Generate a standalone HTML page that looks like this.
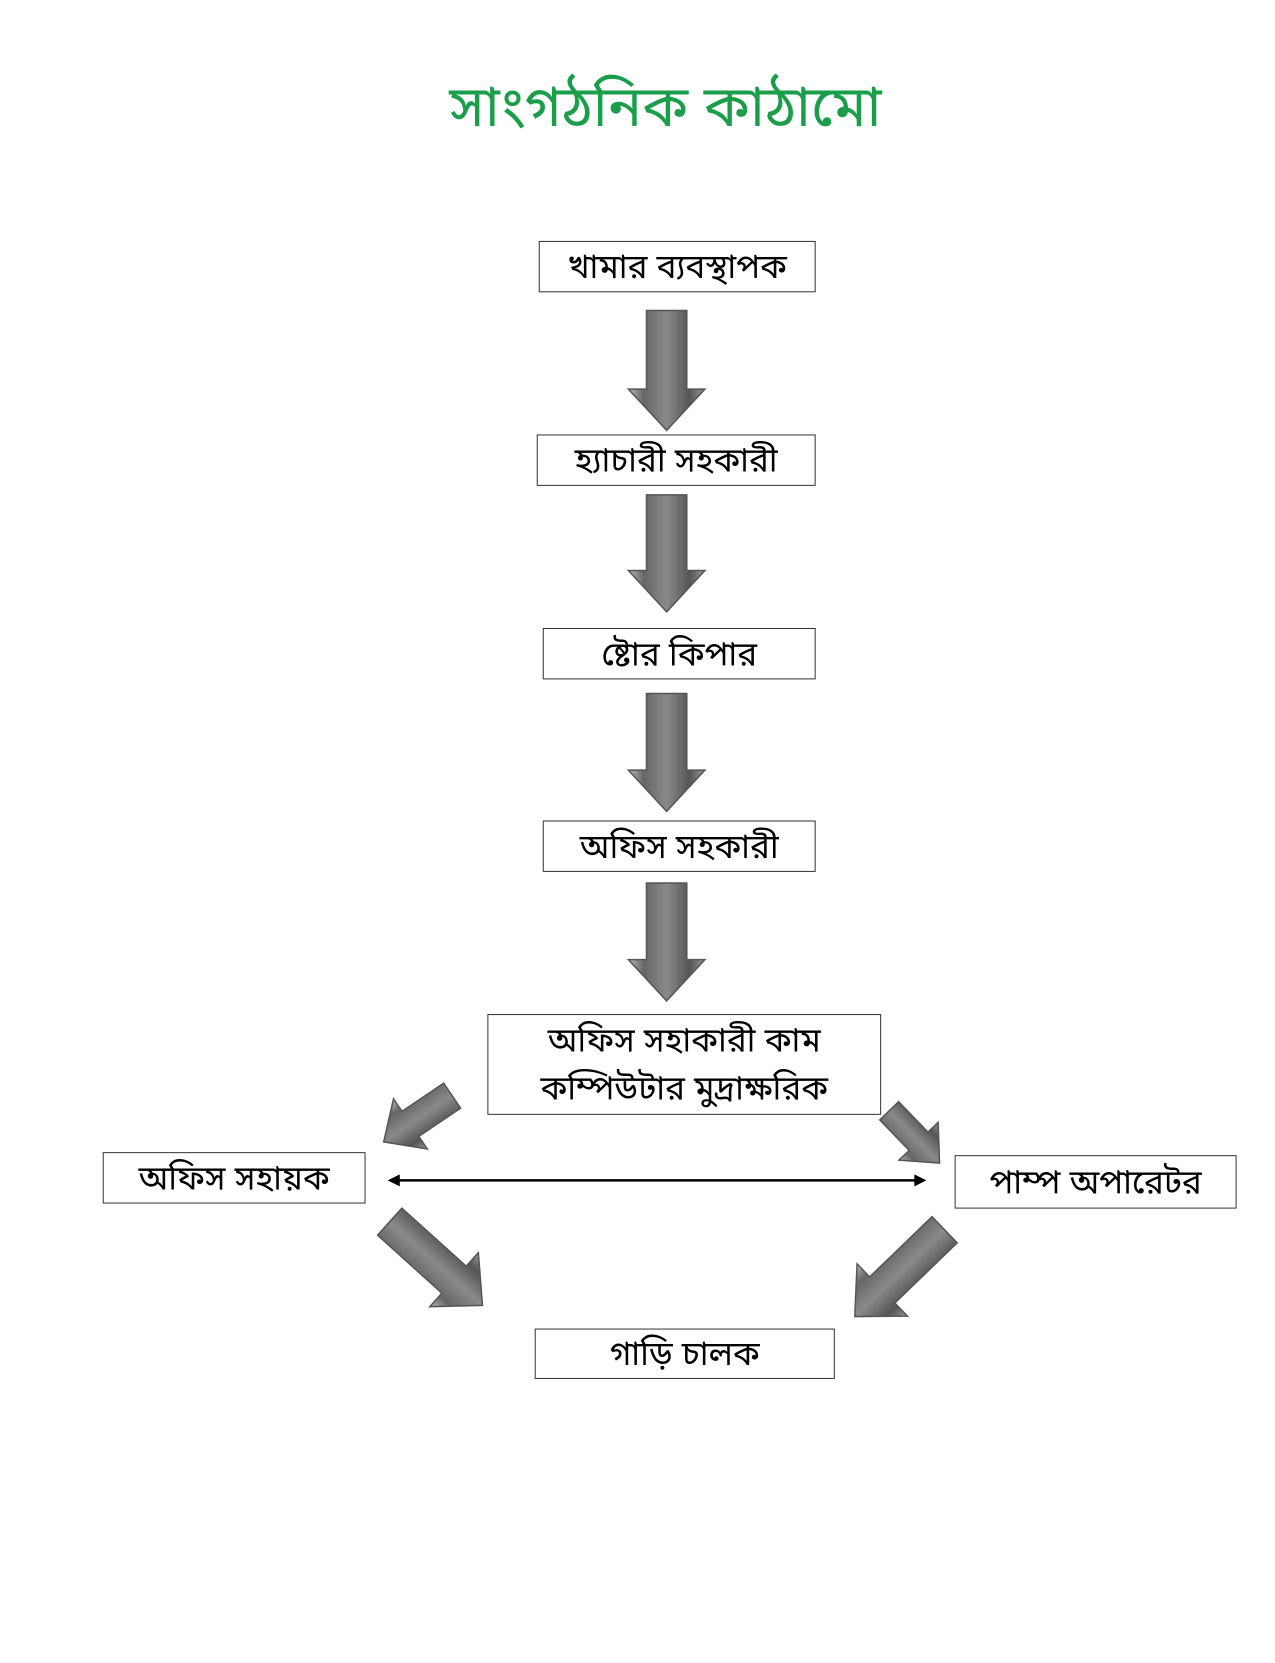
<!DOCTYPE html>
<html><head><meta charset="utf-8"><style>
body{margin:0;width:1275px;height:1650px;background:#fff;position:relative;overflow:hidden;font-family:"Liberation Sans","Noto Sans Bengali","Noto Sans CJK SC",sans-serif}
#w{position:absolute;left:0;top:0;width:1275px;height:1650px;transform:scale(1.007,1.008);transform-origin:0 0}
.t{position:absolute;left:28px;width:1275px;text-align:center;top:74px;font-size:57px;color:#1a9e4a}
.b{position:absolute;border:1.5px solid #333;box-sizing:border-box;display:flex;align-items:center;justify-content:center;font-size:33px;color:#000;text-align:center;line-height:1.45}
</style></head><body>
<div class="t">সাংগঠনিক কাঠামো</div>
<div id="w">
<div class="b" style="left:535px;top:239px;width:275px;height:51px">খামার ব্যবস্থাপক</div>
<div class="b" style="left:533px;top:431px;width:277px;height:51px">হ্যাচারী সহকারী</div>
<div class="b" style="left:539px;top:623px;width:271px;height:51px">ষ্টোর কিপার</div>
<div class="b" style="left:539px;top:814px;width:271px;height:51px">অফিস সহকারী</div>
<div class="b" style="left:484px;top:1006px;width:391px;height:100px">অফিস সহাকারী কাম<br>কম্পিউটার মুদ্রাক্ষরিক</div>
<div class="b" style="left:102px;top:1143px;width:261px;height:51px">অফিস সহায়ক</div>
<div class="b" style="left:948px;top:1146px;width:280px;height:53px">পাম্প অপারেটর</div>
<div class="b" style="left:531px;top:1318px;width:298px;height:50px">গাড়ি চালক</div>
<svg width="1275" height="1650" style="position:absolute;left:0;top:0">
<defs>
<linearGradient id="g" x1="0" x2="1" y1="0" y2="0"><stop offset="0" stop-color="#bbb"/><stop offset="0.2" stop-color="#666"/><stop offset="0.5" stop-color="#8a8a8a"/><stop offset="0.8" stop-color="#555"/><stop offset="1" stop-color="#999"/></linearGradient>
</defs>
<g fill="url(#g)" stroke="#555" stroke-width="1.5">
<polygon points="642,308 682,308 682,386 700,386 662,427 624,386 642,386"/>
<polygon points="642,491 682,491 682,566 700,566 662,607 624,566 642,566"/>
<polygon points="642,688 682,688 682,764 700,764 662,805 624,764 642,764"/>
<polygon points="642,876 682,876 682,952 700,952 662,993 624,952 642,952"/>
<g transform="translate(449,1087) rotate(56)"><polygon points="-15,0 15,0 15,50 30,50 0,82 -30,50 -15,50"/></g>
<g transform="translate(883,1102) rotate(-44)"><polygon points="-13,0 13,0 13,42 27,42 0,72 -27,42 -13,42"/></g>
<g transform="translate(387,1212) rotate(-48)"><polygon points="-18,0 18,0 18,86 36,86 0,124 -36,86 -18,86"/></g>
<g transform="translate(938,1220) rotate(46)"><polygon points="-18,0 18,0 18,86 36,86 0,124 -36,86 -18,86"/></g>
</g>
<line x1="392" y1="1171" x2="912" y2="1171" stroke="#000" stroke-width="2.5"/>
<polygon points="385,1171 397,1165 397,1177" fill="#000"/>
<polygon points="920,1171 908,1165 908,1177" fill="#000"/>
</svg>
</div>
</body></html>
